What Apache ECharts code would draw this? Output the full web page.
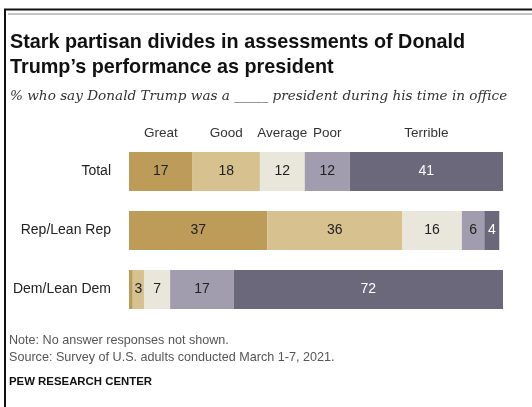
<!DOCTYPE html>
<html>
<head>
<meta charset="utf-8">
<script src="https://cdn.jsdelivr.net/npm/echarts@6/dist/echarts.min.js"></script>
<style>
  html, body { margin: 0; padding: 0; background: #fff; }
  #chart { width: 532px; height: 407px; }
</style>
</head>
<body>
<div id="chart"></div>
<script>
// ── 数据 ──────────────────────────────────────────────
const groups = ['Total', 'Rep/Lean Rep', 'Dem/Lean Dem'];
const ratings = ['Great', 'Good', 'Average', 'Poor', 'Terrible'];
const great = [17, 37, 1];
const good = [18, 36, 3];
const average = [12, 16, 7];
const poor = [12, 6, 17];
const terrible = [41, 4, 72];

const values = [great, good, average, poor, terrible];
const colors = ['#bd9b59', '#d6c18f', '#e9e6dc', '#a19dae', '#6c687b'];
const labelColors = ['#222', '#222', '#222', '#222', '#fff'];

const chart = echarts.init(document.getElementById('chart'), null, { renderer: 'canvas' });

const FONT = 'Liberation Sans';

const series = ratings.map((name, i) => ({
  name,
  type: 'bar',
  stack: 'all',
  barWidth: 39,
  data: values[i],
  itemStyle: { color: colors[i] },
  label: {
    show: true,
    position: 'inside',
    color: labelColors[i],
    fontFamily: FONT,
    fontSize: 14,
    formatter: p => (p.value < 2 ? '' : String(p.value)),
  },
  emphasis: { disabled: true },
  silent: true,
}));

const option = {
  animation: false,
  backgroundColor: '#fff',
  grid: { left: 129, right: 29, top: 142, bottom: 88 },
  xAxis: { type: 'value', min: 0, max: 100, show: false },
  yAxis: {
    type: 'category',
    data: groups,
    inverse: true,
    axisLine: { show: false },
    axisTick: { show: false },
    axisLabel: { color: '#222', fontFamily: FONT, fontSize: 14, margin: 18 },
  },
  series,
  graphic: [
    // 外框
    { type: 'line', shape: { x1: 4, y1: 9.5, x2: 532, y2: 9.5 }, style: { stroke: '#111', lineWidth: 2 } },
    { type: 'line', shape: { x1: 5, y1: 9, x2: 5, y2: 407 }, style: { stroke: '#111', lineWidth: 2 } },
    { type: 'line', shape: { x1: 8, y1: 14, x2: 532, y2: 14 }, style: { stroke: '#888', lineWidth: 1 } },
    // 标题
    { type: 'text', left: 10, top: 33, style: { text: 'Stark partisan divides in assessments of Donald', font: `bold 19.8px "${FONT}"`, fill: '#111' } },
    { type: 'text', left: 10, top: 58, style: { text: 'Trump\u2019s performance as president', font: `bold 19.8px "${FONT}"`, fill: '#111' } },
    { type: 'text', left: 10, top: 89, style: { text: '% who say Donald Trump was a _____ president during his time in office', font: 'italic 13.6px "DejaVu Serif"', fill: '#333' } },
    // 注释
    { type: 'text', left: 9, top: 334, style: { text: 'Note: No answer responses not shown.', font: `12.6px "${FONT}"`, fill: '#555' } },
    { type: 'text', left: 9, top: 351, style: { text: 'Source: Survey of U.S. adults conducted March 1-7, 2021.', font: `12.6px "${FONT}"`, fill: '#555' } },
    { type: 'text', left: 9, top: 376, style: { text: 'PEW RESEARCH CENTER', font: `bold 11.4px "${FONT}"`, fill: '#111' } },
  ],
};

chart.setOption(option);

// 列标题：放在 Total 行各段中心上方
let cum = 0;
const headers = ratings.map((name, i) => {
  const v = values[i][0];
  const x = chart.convertToPixel({ xAxisIndex: 0 }, cum + v / 2);
  cum += v;
  return {
    type: 'text',
    x, y: 133,
    style: { text: name, font: `13.5px "${FONT}"`, fill: '#333', align: 'center', verticalAlign: 'middle' },
  };
});
chart.setOption({ graphic: option.graphic.concat(headers) });
</script>
</body>
</html>
